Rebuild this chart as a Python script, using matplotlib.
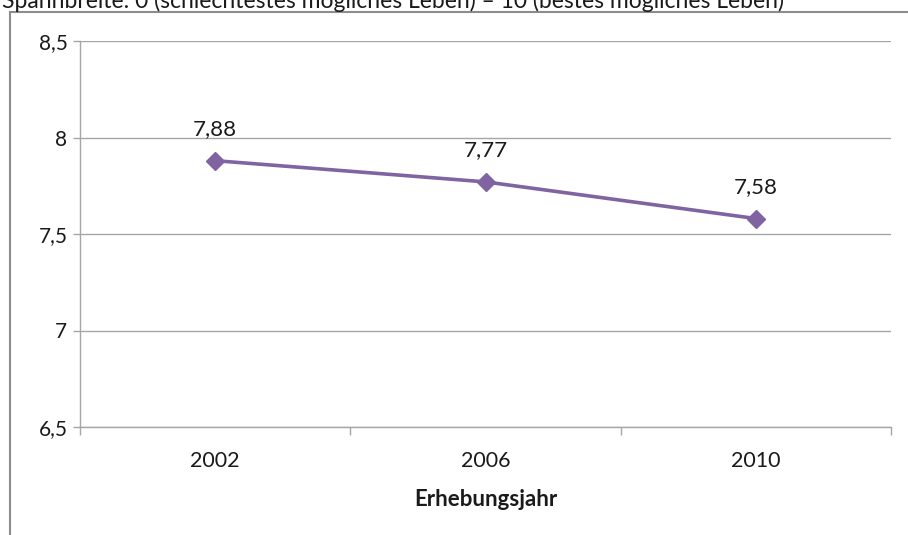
import matplotlib
matplotlib.use("Agg")
from matplotlib import pyplot as plt
from matplotlib.lines import Line2D

years = ['2002', '2006', '2010']
werte = [7.88, 7.77, 7.58]
werte_labels = ['7,88', '7,77', '7,58']
y_ticks = [6.5, 7, 7.5, 8, 8.5]
y_tick_labels = ['6,5', '7', '7,5', '8', '8,5']

plt.rcParams['font.family'] = ['Lato', 'DejaVu Sans']

fig = plt.figure(figsize=(9.08, 5.35), dpi=100)
ax = fig.add_axes([80 / 908, 1 - 427 / 535, 811 / 908, 386 / 535])

grid_col = '#A6A6A6'
line_col = '#8064A2'
txt_col = '#1a1a1a'

x = list(range(len(years)))
ax.plot(x, werte, color=line_col, lw=2.6, marker='D', ms=9.5, zorder=3)
for xi, v, lab in zip(x, werte, werte_labels):
    ax.annotate(lab, (xi, v), xytext=(0, 18.5), textcoords='offset points',
                ha='center', va='baseline', fontsize=16, color=txt_col)

ax.set_xlim(-0.5, 2.5)
ax.set_ylim(6.5, 8.5)
ax.set_yticks(y_ticks)
ax.set_yticklabels(y_tick_labels, fontsize=15, color=txt_col)
ax.set_xticks(x)
ax.set_xticklabels(years, fontsize=15.5, color=txt_col)
ax.tick_params(axis='x', length=0, pad=17)
ax.tick_params(axis='y', length=5, width=1, color=grid_col, pad=4)
# ticks between categories
ax.set_xticks([-0.5, 0.5, 1.5, 2.5], minor=True)
ax.tick_params(axis='x', which='minor', length=6, width=1, color=grid_col)

ax.grid(axis='y', color=grid_col, lw=1)
ax.set_axisbelow(True)
for s in ['top', 'right']:
    ax.spines[s].set_visible(False)
for s in ['left', 'bottom']:
    ax.spines[s].set_color(grid_col)
    ax.spines[s].set_linewidth(1)

ax.set_xlabel('Erhebungsjahr', fontsize=16, fontweight='bold', labelpad=13, color=txt_col)

# outer chart frame (partly cut off)
fig.add_artist(Line2D([10 / 908, 10 / 908], [0, 1 - 12 / 535], color='#8C8C8C', lw=1.5))
fig.add_artist(Line2D([10 / 908, 1], [1 - 12 / 535, 1 - 12 / 535], color='#8C8C8C', lw=1.5))

fig.text(2 / 908, 1 - 8 / 535, 'Spannbreite: 0 (schlechtestes mögliches Leben) – 10 (bestes mögliches Leben)',
         ha='left', va='baseline', fontsize=16.5, color=txt_col)

plt.savefig('out.png', dpi=100)
